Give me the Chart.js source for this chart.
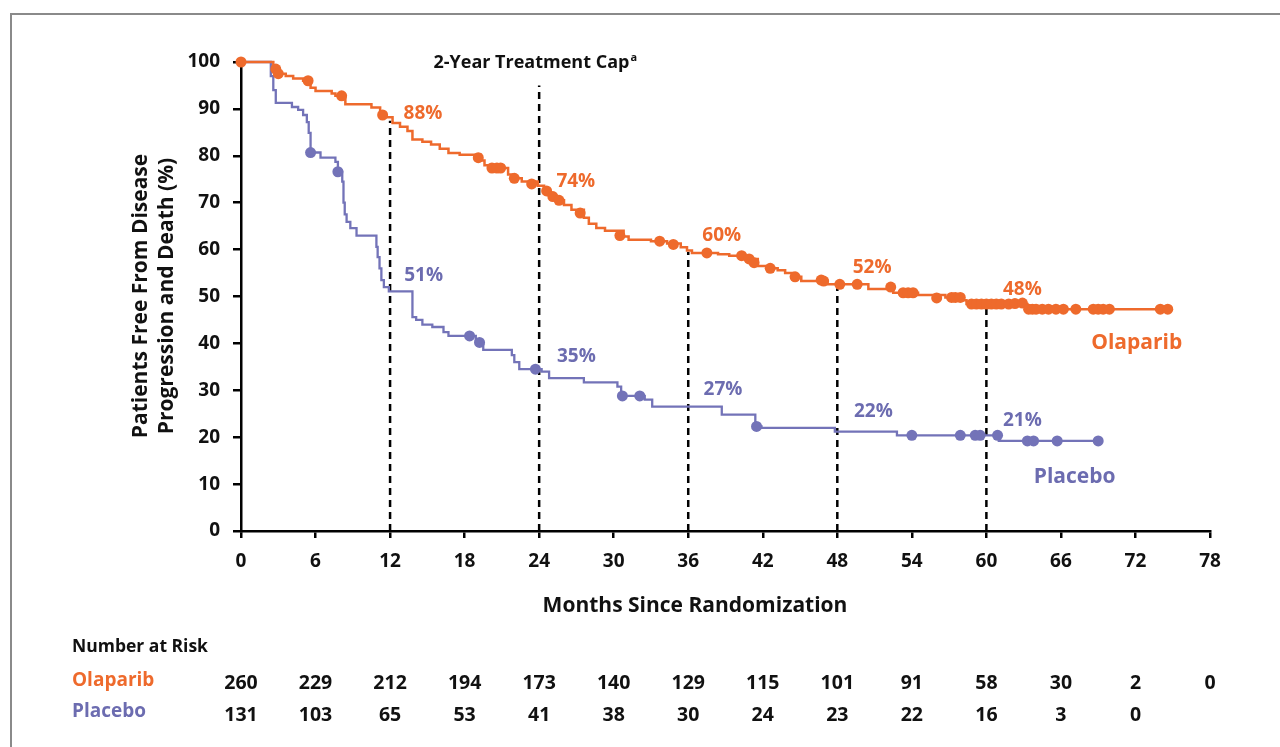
<!DOCTYPE html>
<html>
<head>
<meta charset="utf-8">
<script src="https://cdn.jsdelivr.net/npm/chart.js@4/dist/chart.umd.min.js"></script>
<style>
  html, body { margin: 0; padding: 0; background: #fff; }
  #wrap { position: relative; width: 1280px; height: 747px; overflow: hidden; }
  #frame { position: absolute; left: 10px; top: 13px; width: 1400px; height: 900px;
           border-top: 2px solid #8a8a8a; border-left: 2px solid #8a8a8a; box-sizing: border-box; }
  canvas { position: absolute; left: 0; top: 0; }
</style>
</head>
<body>
<div id="wrap">
  <div id="frame"></div>
  <canvas id="c" width="1280" height="747"></canvas>
</div>
<script>
// ---------------- DATA ----------------
// Olaparib Kaplan-Meier steps (months, % free)
const olaTimes = [0, 2.6, 3.0, 3.6, 4.2, 5.0, 5.6, 6.0, 7.3, 7.6, 8.4, 10.5, 11.2, 11.6, 12.2, 12.8, 13.4, 13.8, 14.6, 15.3, 16.0, 16.7, 17.6, 19.3, 19.6, 20.0, 21.5, 21.8, 22.6, 23.9, 24.4, 24.9, 25.4, 26.0, 26.6, 27.6, 28.0, 28.6, 29.3, 30.8, 31.2, 33.0, 34.3, 35.4, 35.9, 36.3, 38.4, 39.3, 40.6, 41.6, 42.3, 43.2, 43.8, 44.4, 45.1, 47.2, 50.5, 52.5, 54.5, 56.7, 58.1, 58.4, 63.3, 74.8];
const olaSurv  = [100, 98.5, 97.5, 97.0, 96.5, 96.0, 94.5, 93.8, 93.3, 92.8, 91.0, 90.3, 89.0, 88.2, 87.0, 86.2, 85.3, 83.5, 83.0, 82.4, 81.5, 80.6, 80.2, 79.0, 78.0, 77.4, 76.0, 75.2, 74.5, 73.6, 72.5, 71.3, 70.5, 69.5, 68.5, 66.8, 65.5, 64.6, 64.0, 62.8, 62.1, 61.8, 61.3, 60.5, 59.8, 59.3, 59.0, 58.7, 58.0, 56.5, 56.0, 55.6, 55.0, 54.2, 53.3, 52.6, 51.6, 50.8, 50.3, 49.8, 49.2, 48.4, 47.3, 47.3];
const olaCensT = [0, 2.8, 3.0, 5.4, 8.1, 11.4, 19.1, 20.2, 20.6, 20.9, 22.0, 23.4, 24.6, 25.1, 25.6, 27.3, 30.5, 33.7, 34.8, 37.5, 40.3, 40.9, 41.3, 42.6, 44.6, 46.7, 46.9, 48.2, 49.6, 52.3, 53.3, 53.7, 54.1, 56.0, 57.2, 57.5, 57.9, 58.8, 59.2, 59.6, 60.0, 60.4, 60.8, 61.2, 61.8, 62.3, 62.9, 63.4, 63.7, 64.0, 64.5, 65.0, 65.6, 66.2, 67.2, 68.6, 69.0, 69.4, 69.9, 74.0, 74.6];
const olaCensS = [100, 98.5, 97.5, 96.0, 92.8, 88.7, 79.6, 77.4, 77.4, 77.4, 75.2, 74.0, 72.5, 71.3, 70.5, 67.8, 63.0, 61.8, 61.1, 59.3, 58.7, 58.0, 57.2, 56.0, 54.2, 53.5, 53.3, 52.6, 52.6, 52.0, 50.8, 50.8, 50.8, 49.7, 49.8, 49.8, 49.8, 48.4, 48.4, 48.4, 48.4, 48.4, 48.4, 48.4, 48.4, 48.5, 48.6, 47.3, 47.3, 47.3, 47.3, 47.3, 47.3, 47.3, 47.3, 47.3, 47.3, 47.3, 47.3, 47.3, 47.3];

// Placebo Kaplan-Meier steps
const plaTimes = [0, 2.4, 2.6, 2.8, 4.1, 4.6, 5.0, 5.3, 5.45, 5.6, 6.4, 7.6, 7.8, 8.15, 8.25, 8.35, 8.5, 8.8, 9.3, 10.9, 11.0, 11.15, 11.3, 11.5, 11.9, 13.8, 14.1, 14.6, 15.4, 16.3, 16.7, 18.9, 19.5, 21.8, 22.0, 22.4, 24.2, 24.8, 27.6, 30.3, 30.6, 32.5, 33.1, 38.7, 41.4, 41.9, 47.8, 52.8, 61.0, 69.0];
const plaSurv  = [100, 97.0, 94.0, 91.3, 90.4, 89.8, 88.7, 87.2, 84.9, 80.7, 79.6, 78.7, 76.6, 74.5, 70.0, 67.5, 65.9, 64.6, 63.0, 60.6, 58.4, 56.0, 53.5, 52.0, 51.1, 45.6, 45.0, 44.0, 43.5, 42.4, 41.6, 40.2, 38.6, 37.5, 36.0, 34.5, 34.0, 32.6, 31.7, 30.8, 28.8, 28.0, 26.5, 24.8, 22.3, 22.0, 21.2, 20.4, 19.2, 19.2];
const plaCensT = [5.6, 7.8, 18.4, 19.2, 23.7, 30.7, 32.1, 41.5, 54.0, 57.9, 59.1, 59.5, 60.9, 63.3, 63.8, 65.7, 69.0];
const plaCensS = [80.7, 76.6, 41.6, 40.2, 34.5, 28.8, 28.8, 22.3, 20.4, 20.4, 20.4, 20.4, 20.4, 19.2, 19.2, 19.2, 19.2];

// Landmark percentages
const landmarkMonths = [12, 24, 36, 48, 60];
const landmarkTops   = [87.5, 95, 59.5, 52, 48];
const olaLandmarkPct = ['88%', '74%', '60%', '52%', '48%'];
const plaLandmarkPct = ['51%', '35%', '27%', '22%', '21%'];

// Number at risk
const riskMonths = [0, 6, 12, 18, 24, 30, 36, 42, 48, 54, 60, 66, 72, 78];
const olaRisk = ['260', '229', '212', '194', '173', '140', '129', '115', '101', '91', '58', '30', '2', '0'];
const plaRisk = ['131', '103', '65', '53', '41', '38', '30', '24', '23', '22', '16', '3', '0', ''];

const seriesNames = ['Olaparib', 'Placebo'];
const yTicks = [0, 10, 20, 30, 40, 50, 60, 70, 80, 90, 100];
const xTicks = [0, 6, 12, 18, 24, 30, 36, 42, 48, 54, 60, 66, 72, 78];

// ---------------- STYLE ----------------
const ORANGE = '#EE6A2C';
const PURPLE = '#7373B8';
const PURPLE_TXT = '#6C6CB0';
const FONT = '"Open Sans", "Noto Sans", sans-serif';

const toXY = (xs, ys) => xs.map((x, i) => ({ x: x, y: ys[i] }));

const datasets = [];
landmarkMonths.forEach((m, i) => {
  datasets.push({
    type: 'line', data: [{ x: m, y: 0 }, { x: m, y: landmarkTops[i] }],
    borderColor: '#000', borderWidth: 2.5, borderDash: [7, 5], pointRadius: 0, order: 10
  });
});
datasets.push({
  type: 'line', label: 'Placebo', data: toXY(plaTimes, plaSurv), stepped: 'before',
  borderColor: PURPLE, borderWidth: 2.3, pointRadius: 0, order: 3
});
datasets.push({
  type: 'line', label: 'Placebo censored', data: toXY(plaCensT, plaCensS), showLine: false,
  pointRadius: 5.5, pointBackgroundColor: PURPLE, pointBorderWidth: 0, order: 2
});
datasets.push({
  type: 'line', label: 'Olaparib', data: toXY(olaTimes, olaSurv), stepped: 'before',
  borderColor: ORANGE, borderWidth: 2.5, pointRadius: 0, order: 1
});
datasets.push({
  type: 'line', label: 'Olaparib censored', data: toXY(olaCensT, olaCensS), showLine: false,
  pointRadius: 5.5, pointBackgroundColor: ORANGE, pointBorderWidth: 0, order: 0
});

const textPlugin = {
  id: 'extraText',
  afterDraw(chart) {
    const ctx = chart.ctx, xs = chart.scales.x, ys = chart.scales.y;
    ctx.save();
    ctx.textAlign = 'center';
    ctx.textBaseline = 'middle';
    // landmark labels
    const olaPos = [[14.65, 89.1], [26.95, 74.4], [38.7, 62.9], [50.8, 56.1], [62.9, 51.4]];
    const plaPos = [[14.7, 54.4], [27.0, 37.1], [38.8, 30.1], [50.9, 25.4], [62.9, 23.5]];
    ctx.font = 'bold 19px ' + FONT;
    ctx.fillStyle = ORANGE;
    olaLandmarkPct.forEach((t, i) => ctx.fillText(t, xs.getPixelForValue(olaPos[i][0]), ys.getPixelForValue(olaPos[i][1])));
    ctx.fillStyle = PURPLE_TXT;
    plaLandmarkPct.forEach((t, i) => ctx.fillText(t, xs.getPixelForValue(plaPos[i][0]), ys.getPixelForValue(plaPos[i][1])));
    // series names
    ctx.font = 'bold 21px ' + FONT;
    ctx.fillStyle = ORANGE;
    ctx.fillText(seriesNames[0], xs.getPixelForValue(72.1), ys.getPixelForValue(40.0));
    ctx.fillStyle = PURPLE_TXT;
    ctx.fillText(seriesNames[1], xs.getPixelForValue(67.1), ys.getPixelForValue(11.6));
    // treatment cap
    ctx.fillStyle = '#111';
    ctx.font = 'bold 18px ' + FONT;
    const capTxt = '2-Year Treatment Cap';
    const w = ctx.measureText(capTxt).width;
    const cx = xs.getPixelForValue(23.7), cy = ys.getPixelForValue(99.8);
    ctx.textAlign = 'left';
    ctx.fillText(capTxt, cx - w / 2 - 4, cy);
    ctx.font = 'bold 11px ' + FONT;
    ctx.fillText('a', cx + w / 2 - 3, cy - 5);
    // axis titles
    ctx.textAlign = 'center';
    ctx.font = 'bold 21px ' + FONT;
    ctx.fillText('Months Since Randomization', 695, 606);
    ctx.save();
    ctx.translate(141, 296);
    ctx.rotate(-Math.PI / 2);
    ctx.fillText('Patients Free From Disease', 0, 0);
    ctx.fillText('Progression and Death (%)', 0, 26);
    ctx.restore();
    // number at risk
    ctx.textAlign = 'left';
    ctx.font = 'bold 17.5px ' + FONT;
    ctx.fillStyle = '#111';
    ctx.fillText('Number at Risk', 72, 647);
    ctx.font = 'bold 19px ' + FONT;
    ctx.fillStyle = ORANGE;
    ctx.fillText(seriesNames[0], 72, 681);
    ctx.fillStyle = PURPLE_TXT;
    ctx.fillText(seriesNames[1], 72, 712);
    ctx.textAlign = 'center';
    ctx.fillStyle = '#111';
    ctx.font = 'bold 19.5px ' + FONT;
    riskMonths.forEach((m, i) => {
      const px = xs.getPixelForValue(m);
      ctx.fillText(olaRisk[i], px, 683);
      ctx.fillText(plaRisk[i], px, 715);
    });
    ctx.restore();
  }
};

new Chart(document.getElementById('c'), {
  type: 'line',
  data: { datasets: datasets },
  options: {
    responsive: false,
    devicePixelRatio: 1,
    animation: false,
    events: [],
    layout: { padding: { left: 0, right: 70, top: 62, bottom: 0 } },
    plugins: { legend: { display: false }, tooltip: { enabled: false } },
    elements: { line: { tension: 0 } },
    datasets: { line: { clip: false } },
    scales: {
      x: {
        type: 'linear', min: 0, max: 78,
        afterFit: s => { s.height = 747 - 531; },
        afterBuildTicks: s => { s.ticks = xTicks.map(v => ({ value: v })); },
        grid: { drawOnChartArea: false, drawTicks: true, tickLength: 7, color: '#000', lineWidth: 2.5 },
        border: { display: true, color: '#000', width: 2.5 },
        ticks: { color: '#111', font: { family: FONT, size: 19, weight: 'bold' }, padding: 12, maxRotation: 0, autoSkip: false }
      },
      y: {
        type: 'linear', min: 0, max: 100,
        afterFit: s => { s.width = 241; },
        afterBuildTicks: s => { s.ticks = yTicks.map(v => ({ value: v })); },
        grid: { drawOnChartArea: false, drawTicks: true, tickLength: 8, color: '#000', lineWidth: 2.5 },
        border: { display: true, color: '#000', width: 2.5 },
        ticks: { color: '#111', font: { family: FONT, size: 19, weight: 'bold' }, padding: 13, autoSkip: false }
      }
    }
  },
  plugins: [textPlugin]
});
</script>
</body>
</html>
